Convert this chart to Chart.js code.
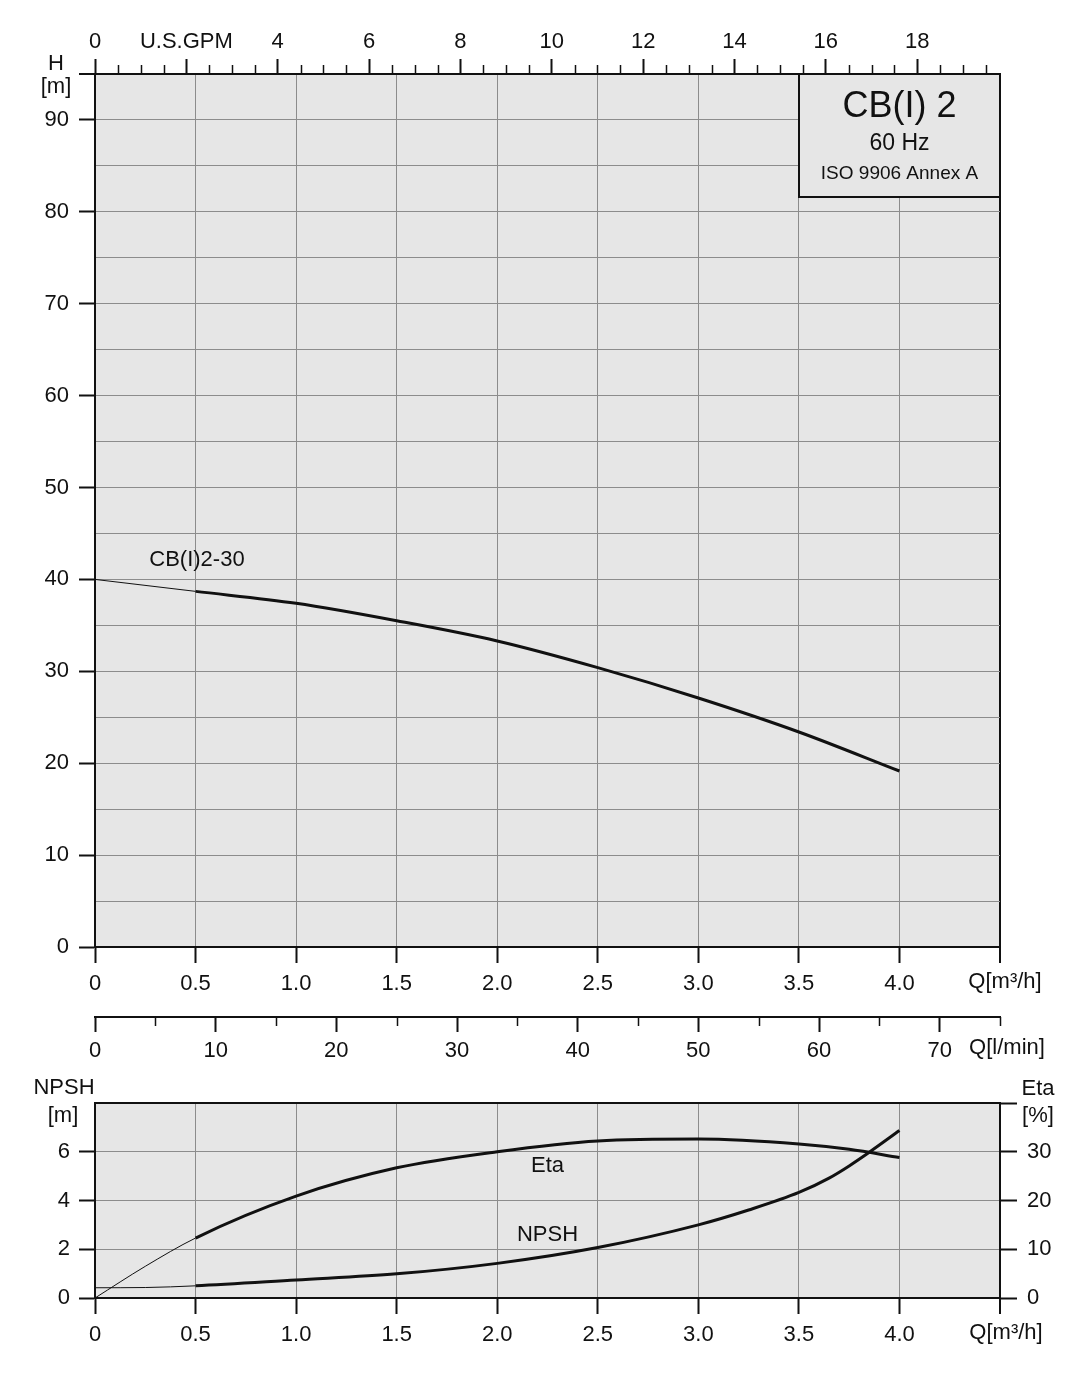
<!DOCTYPE html>
<html>
<head>
<meta charset="utf-8">
<title>CB(I) 2 - 60 Hz</title>
<script src="https://cdn.jsdelivr.net/npm/chart.js@4.4.1/dist/chart.umd.min.js"></script>
<style>
  html, body { margin: 0; padding: 0; background: #fff; }
  #wrap { position: relative; width: 1092px; height: 1376px; }
  canvas { position: absolute; left: 0; }
  #pumpChart { top: 0; }
  #npshChart { top: 1060px; }
</style>
</head>
<body>
<div id="wrap">
  <canvas id="pumpChart" width="1092" height="1060"></canvas>
  <canvas id="npshChart" width="1092" height="316"></canvas>
</div>
<script>
const Q_MAX = 4.5;
const GPM_PER_M3H = 4.40287;
const LMIN_PER_M3H = 1000 / 60;

// Q-H curve CB(I)2-30 (m3/h, m)
const headFlow = [0, 0.5, 1.0, 1.5, 2.0, 2.5, 3.0, 3.5, 4.0];
const headM    = [40, 38.7, 37.4, 35.5, 33.3, 30.4, 27.1, 23.4, 19.15];

// efficiency (%)
const etaFlow = [0, 0.25, 0.5, 1.0, 1.5, 2.0, 2.5, 3.0, 3.5, 3.75, 4.0];
const etaPct  = [0, 6.5, 12.3, 20.9, 26.7, 30.0, 32.2, 32.6, 31.6, 30.5, 28.8];

// NPSH (m)
const npshFlow = [0, 0.25, 0.5, 1.0, 1.5, 2.0, 2.5, 3.0, 3.25, 3.5, 3.65, 3.75, 3.85, 4.0];
const npshM    = [0.42, 0.43, 0.5, 0.74, 0.99, 1.42, 2.07, 3.0, 3.61, 4.33, 4.92, 5.42, 5.98, 6.87];

// ticks
const qTicks    = [0, 0.5, 1.0, 1.5, 2.0, 2.5, 3.0, 3.5, 4.0, 4.5];
const qLabels   = ['0', '0.5', '1.0', '1.5', '2.0', '2.5', '3.0', '3.5', '4.0', ''];
const gpmTicks  = [0, 2, 4, 6, 8, 10, 12, 14, 16, 18];
const gpmLabels = ['0', 'U.S.GPM', '4', '6', '8', '10', '12', '14', '16', '18'];
const lminTicks = [0, 10, 20, 30, 40, 50, 60, 70];
const headTicks = [0, 5, 10, 15, 20, 25, 30, 35, 40, 45, 50, 55, 60, 65, 70, 75, 80, 85, 90, 95];
const npshTicks = [0, 1, 2, 3, 4, 5, 6, 7, 8];
const etaTicks  = [0, 10, 20, 30, 40];

const FONT = "'Liberation Sans', Arial, sans-serif";
const FS = 22;
const INK = '#111';
const GRID = '#8c8c8c';
const PLOT_BG = '#e6e6e6';
const NONE = 'rgba(0,0,0,0)';

Chart.defaults.font.family = FONT;
Chart.defaults.font.size = FS;
Chart.defaults.color = INK;

const pts = (xs, ys) => xs.map((x, i) => ({ x: x, y: ys[i] }));
const useTicks = values => s => { s.ticks = values.map(v => ({ value: v })); };
const near = (a, b) => Math.abs(a - b) < 1e-6;

// thin line below 0.5 m3/h, thick afterwards
const curveSegment = { borderWidth: c => (c.p0.parsed.x < 0.5 - 1e-6 ? 1 : 3) };

function label(ctx, str, x, y, size, align) {
  ctx.save();
  ctx.font = size + 'px ' + FONT;
  ctx.fillStyle = INK;
  ctx.textAlign = align || 'center';
  ctx.textBaseline = 'middle';
  ctx.fillText(str, x, y);
  ctx.restore();
}

function minorTicks(ctx, scale, step, skip, edgeY, len) {
  ctx.save();
  ctx.strokeStyle = INK;
  ctx.lineWidth = 1.5;
  ctx.beginPath();
  for (let v = step; v <= scale.max + 1e-6; v += step) {
    if (near(v / skip, Math.round(v / skip))) continue;
    const x = Math.round(scale.getPixelForValue(v)) + 0.5;
    ctx.moveTo(x, edgeY);
    ctx.lineTo(x, edgeY + len);
  }
  ctx.stroke();
  ctx.restore();
}

const plotBackground = {
  id: 'plotBackground',
  beforeDraw(chart) {
    const { ctx, chartArea: a } = chart;
    ctx.save();
    ctx.fillStyle = PLOT_BG;
    ctx.fillRect(a.left, a.top, a.right - a.left, a.bottom - a.top);
    ctx.restore();
  }
};

const pumpDecor = {
  id: 'pumpDecor',
  afterDraw(chart) {
    const { ctx, chartArea: a, scales } = chart;
    minorTicks(ctx, scales.gpm, 0.5, 2, scales.gpm.bottom, -9);
    minorTicks(ctx, scales.lmin, 5, 10, scales.lmin.top, 9);

    label(ctx, 'H', 56, 64, FS);
    label(ctx, '[m]', 56, 87, FS);
    label(ctx, 'Q[m³/h]', 1005, 982, FS);
    label(ctx, 'Q[l/min]', 1007, 1048, FS);

    label(ctx, 'CB(I)2-30', scales.x.getPixelForValue(0.507), scales.y.getPixelForValue(42.1), FS);

    // title box
    const bx = a.right - 201, by = a.top, bw = 201, bh = 123;
    ctx.save();
    ctx.fillStyle = PLOT_BG;
    ctx.fillRect(bx, by, bw, bh);
    ctx.strokeStyle = INK;
    ctx.lineWidth = 2;
    ctx.strokeRect(bx, by, bw, bh);
    ctx.restore();
    const cx = bx + bw / 2;
    label(ctx, 'CB(I) 2', cx, by + 33, 36);
    label(ctx, '60 Hz', cx, by + 70, 23);
    label(ctx, 'ISO 9906 Annex A', cx, by + 100, 19);
  }
};

const npshDecor = {
  id: 'npshDecor',
  afterDraw(chart) {
    const { ctx, scales } = chart;
    label(ctx, 'NPSH', 64, 28, FS);
    label(ctx, '[m]', 63, 56, FS);
    label(ctx, 'Eta', 1038, 29, FS);
    label(ctx, '[%]', 1038, 56, FS);
    label(ctx, 'Q[m³/h]', 1006, 273, FS);
    label(ctx, 'Eta', scales.x.getPixelForValue(2.25), scales.npsh.getPixelForValue(5.43), FS);
    label(ctx, 'NPSH', scales.x.getPixelForValue(2.25), scales.npsh.getPixelForValue(2.59), FS);
  }
};

function flowAxis(height) {
  return {
    type: 'linear', position: 'bottom', min: 0, max: Q_MAX, weight: 0,
    afterBuildTicks: useTicks(qTicks),
    afterFit: s => { s.height = height; },
    grid: {
      color: c => (near(c.tick.value, 0) || near(c.tick.value, Q_MAX) ? INK : GRID),
      lineWidth: c => (near(c.tick.value, Q_MAX) ? 2 : 1),
      tickLength: 16, tickColor: INK, tickWidth: 2
    },
    border: { color: INK, width: 2 },
    ticks: { padding: 8, maxRotation: 0, autoSkip: false, callback: (v, i) => qLabels[i] }
  };
}

const baseOptions = {
  responsive: false,
  animation: false,
  events: [],
  plugins: { legend: { display: false }, tooltip: { enabled: false } },
  elements: { point: { radius: 0, hoverRadius: 0 } }
};

new Chart(document.getElementById('pumpChart'), {
  type: 'line',
  data: {
    datasets: [{
      label: 'CB(I)2-30',
      data: pts(headFlow, headM),
      xAxisID: 'x', yAxisID: 'y',
      borderColor: INK, borderWidth: 3,
      cubicInterpolationMode: 'monotone',
      segment: curveSegment,
      fill: false
    }]
  },
  options: Object.assign({}, baseOptions, {
    layout: { padding: { left: 0, right: 92, top: 0, bottom: 0 } },
    scales: {
      x: flowAxis(70),
      lmin: {
        type: 'linear', axis: 'x', position: 'bottom', min: 0, max: Q_MAX * LMIN_PER_M3H, weight: 1,
        afterBuildTicks: useTicks(lminTicks),
        afterFit: s => { s.height = 43; },
        grid: { drawOnChartArea: false, tickLength: 15, tickColor: INK, tickWidth: 2 },
        border: { color: INK, width: 2 },
        ticks: { padding: 6, maxRotation: 0, autoSkip: false }
      },
      gpm: {
        type: 'linear', axis: 'x', position: 'top', min: 0, max: Q_MAX * GPM_PER_M3H,
        afterBuildTicks: useTicks(gpmTicks),
        afterFit: s => { s.height = 74; },
        grid: { drawOnChartArea: false, tickLength: 15, tickColor: INK, tickWidth: 2 },
        border: { color: INK, width: 2 },
        ticks: { padding: 4, maxRotation: 0, autoSkip: false, callback: (v, i) => gpmLabels[i] }
      },
      y: {
        type: 'linear', position: 'left', min: 0, max: 95,
        afterBuildTicks: useTicks(headTicks),
        afterFit: s => { s.width = 95; },
        grid: {
          color: c => (c.tick.value === 0 || c.tick.value === 95 ? INK : GRID),
          lineWidth: c => (c.tick.value === 95 ? 2 : 1),
          tickLength: 16,
          tickColor: c => (c.tick.value % 10 === 0 || c.tick.value === 95 ? INK : NONE),
          tickWidth: 2
        },
        border: { color: INK, width: 2 },
        ticks: { padding: 10, callback: v => (v % 10 === 0 ? String(v) : '') }
      }
    }
  }),
  plugins: [plotBackground, pumpDecor]
});

new Chart(document.getElementById('npshChart'), {
  type: 'line',
  data: {
    datasets: [{
      label: 'Eta',
      data: pts(etaFlow, etaPct),
      xAxisID: 'x', yAxisID: 'eta',
      borderColor: INK, borderWidth: 3,
      cubicInterpolationMode: 'monotone',
      segment: curveSegment,
      fill: false
    }, {
      label: 'NPSH',
      data: pts(npshFlow, npshM),
      xAxisID: 'x', yAxisID: 'npsh',
      borderColor: INK, borderWidth: 3,
      cubicInterpolationMode: 'monotone',
      segment: curveSegment,
      fill: false
    }]
  },
  options: Object.assign({}, baseOptions, {
    layout: { padding: { left: 0, right: 0, top: 43, bottom: 0 } },
    scales: {
      x: flowAxis(78),
      npsh: {
        type: 'linear', axis: 'y', position: 'left', min: 0, max: 8,
        afterBuildTicks: useTicks(npshTicks),
        afterFit: s => { s.width = 95; },
        grid: {
          color: c => (c.tick.value === 0 || c.tick.value === 8 ? INK : GRID),
          lineWidth: c => (c.tick.value === 8 ? 2 : 1),
          tickLength: 16,
          tickColor: c => (c.tick.value % 2 === 0 && c.tick.value !== 8 ? INK : NONE),
          tickWidth: 2
        },
        border: { color: INK, width: 2 },
        ticks: { padding: 9, callback: v => (v % 2 === 0 && v !== 8 ? String(v) : '') }
      },
      eta: {
        type: 'linear', axis: 'y', position: 'right', min: 0, max: 40,
        afterBuildTicks: useTicks(etaTicks),
        afterFit: s => { s.width = 92; },
        grid: { drawOnChartArea: false, tickLength: 17, tickColor: INK, tickWidth: 2 },
        border: { color: INK, width: 2 },
        ticks: { padding: 10, callback: v => (v === 40 ? '' : String(v)) }
      }
    }
  }),
  plugins: [plotBackground, npshDecor]
});
</script>
</body>
</html>
